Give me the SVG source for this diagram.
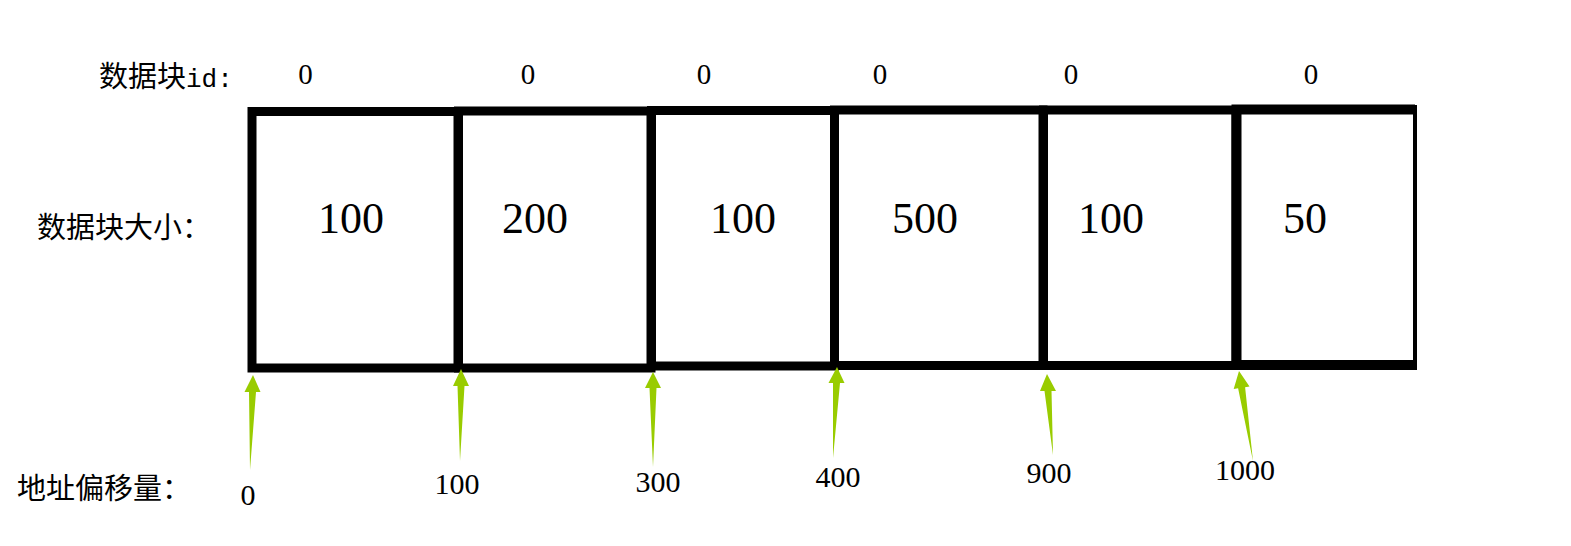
<svg xmlns="http://www.w3.org/2000/svg" width="1571" height="546" viewBox="0 0 1571 546">
<style>
.box{fill:#fff;stroke:#000;stroke-width:9}
.num{font-family:"Liberation Serif","Times New Roman",serif;font-size:44px;fill:#000;text-anchor:middle}
.id{font-family:"Liberation Serif","Times New Roman",serif;font-size:29px;fill:#000;text-anchor:middle}
.off{font-family:"Liberation Serif","Times New Roman",serif;font-size:30px;fill:#000;text-anchor:middle}
.lbl{font-family:"Noto Sans CJK SC","Noto Sans",sans-serif;font-size:29px;fill:#000}
.arr{fill:#99cc00;stroke:none}
</style>
<rect width="1571" height="546" fill="#fff"/>
<g id="labels">
<text class="lbl" x="99" y="87">数据块<tspan font-family="Liberation Mono,monospace" font-size="26">id:</tspan></text>
<text class="lbl" x="37" y="238">数据块大小：</text>
<text class="lbl" x="17" y="499">地址偏移量：</text>
</g>
<g id="block1"><rect class="box" x="252" y="111.5" width="206" height="256.5"/><text class="id" x="305.5" y="84">0</text><text class="num" x="351" y="233">100</text></g>
<g id="block2"><rect class="box" x="458.5" y="111" width="192.5" height="257"/><text class="id" x="528" y="84">0</text><text class="num" x="535" y="233">200</text></g>
<g id="block3"><rect class="box" x="651.5" y="110.5" width="183" height="255.5"/><text class="id" x="704" y="84">0</text><text class="num" x="743" y="233">100</text></g>
<g id="block4"><rect class="box" x="834.5" y="110" width="208.5" height="255.5"/><text class="id" x="880" y="84">0</text><text class="num" x="925" y="233">500</text></g>
<g id="block5"><rect class="box" x="1043.5" y="110" width="192.5" height="255.5"/><text class="id" x="1071" y="84">0</text><text class="num" x="1111" y="233">100</text></g>
<g id="block6"><path d="M1415,365 H1236.5 V109.5 H1415" fill="none" stroke="#000" stroke-width="10"/><line x1="1415" y1="105" x2="1415" y2="370" stroke="#000" stroke-width="4"/><text class="id" x="1311" y="84">0</text><text class="num" x="1305" y="233">50</text></g>
<g id="connectors">
<polygon class="arr" points="250,470 256,392 260.5,392 253,375 244.5,392 249,392"/>
<polygon class="arr" points="460,461 464.5,386 469,386 461,369 453,386 457.5,386"/>
<polygon class="arr" points="653,467 656.5,388 661,388 653,372 645,388 649.5,388"/>
<polygon class="arr" points="833,458 840,383 844.5,383 837,367 828.5,383 833,383"/>
<polygon class="arr" points="1053,455 1051.5,391 1056,391 1047,374 1040,391 1044.5,391"/>
<polygon class="arr" points="1253,461 1245.1,387.3 1249.5,386.6 1239,371 1233.7,389 1238.1,388.3"/>
</g>
<g id="offsets">
<text class="off" x="248" y="505">0</text>
<text class="off" x="457" y="494">100</text>
<text class="off" x="658" y="492">300</text>
<text class="off" x="838" y="487">400</text>
<text class="off" x="1049" y="483">900</text>
<text class="off" x="1245" y="480">1000</text>
</g>
</svg>
